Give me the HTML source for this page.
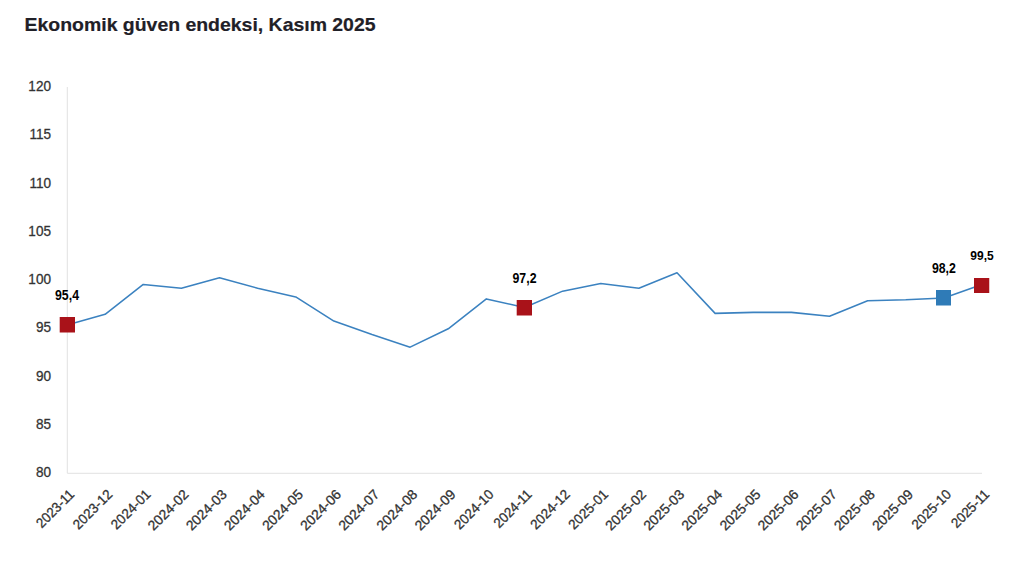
<!DOCTYPE html>
<html><head><meta charset="utf-8"><title>Ekonomik güven endeksi</title>
<style>
html,body{margin:0;padding:0;background:#fff;}
body{width:1023px;height:564px;overflow:hidden;font-family:"Liberation Sans",sans-serif;}
svg{display:block;}
text{font-family:"Liberation Sans",sans-serif;}
.title{font-weight:bold;font-size:18.9px;fill:#1f2027;stroke:#1f2027;stroke-width:0.2px;letter-spacing:0px;}
.yl{font-size:14.6px;fill:#333333;text-anchor:end;stroke:#333333;stroke-width:0.3px;}
.xl{font-size:13.9px;fill:#333333;text-anchor:end;stroke:#333333;stroke-width:0.3px;}
.dl{font-size:12.0px;font-weight:bold;fill:#000;text-anchor:middle;}
</style></head><body>
<svg width="1023" height="564" viewBox="0 0 1023 564">
<rect x="0" y="0" width="1023" height="564" fill="#ffffff"/>
<text class="title" transform="translate(24.6,31.4) scale(1.029,1)">Ekonomik güven endeksi, Kasım 2025</text>
<!-- axes -->
<path d="M67.3 87.0 V473.3 H982.0" fill="none" stroke="#e2e2e2" stroke-width="1"/>
<text class="yl" transform="translate(51.0,477.20) scale(0.93,1)">80</text>
<text class="yl" transform="translate(51.0,428.95) scale(0.93,1)">85</text>
<text class="yl" transform="translate(51.0,380.70) scale(0.93,1)">90</text>
<text class="yl" transform="translate(51.0,332.45) scale(0.93,1)">95</text>
<text class="yl" transform="translate(51.0,284.20) scale(0.93,1)">100</text>
<text class="yl" transform="translate(51.0,235.95) scale(0.93,1)">105</text>
<text class="yl" transform="translate(51.0,187.70) scale(0.93,1)">110</text>
<text class="yl" transform="translate(51.0,139.45) scale(0.93,1)">115</text>
<text class="yl" transform="translate(51.0,91.20) scale(0.93,1)">120</text>
<text class="xl" transform="translate(75.20,495.30) rotate(-45) scale(0.946,1)">2023-11</text>
<text class="xl" transform="translate(113.33,495.30) rotate(-45) scale(0.968,1)">2023-12</text>
<text class="xl" transform="translate(151.45,495.30) rotate(-45) scale(0.968,1)">2024-01</text>
<text class="xl" transform="translate(189.57,495.30) rotate(-45) scale(1.000,1)">2024-02</text>
<text class="xl" transform="translate(227.70,495.30) rotate(-45) scale(1.000,1)">2024-03</text>
<text class="xl" transform="translate(265.82,495.30) rotate(-45) scale(1.000,1)">2024-04</text>
<text class="xl" transform="translate(303.95,495.30) rotate(-45) scale(1.000,1)">2024-05</text>
<text class="xl" transform="translate(342.07,495.30) rotate(-45) scale(1.000,1)">2024-06</text>
<text class="xl" transform="translate(380.20,495.30) rotate(-45) scale(1.000,1)">2024-07</text>
<text class="xl" transform="translate(418.32,495.30) rotate(-45) scale(1.000,1)">2024-08</text>
<text class="xl" transform="translate(456.45,495.30) rotate(-45) scale(1.000,1)">2024-09</text>
<text class="xl" transform="translate(494.57,495.30) rotate(-45) scale(0.968,1)">2024-10</text>
<text class="xl" transform="translate(532.70,495.30) rotate(-45) scale(0.946,1)">2024-11</text>
<text class="xl" transform="translate(570.83,495.30) rotate(-45) scale(0.968,1)">2024-12</text>
<text class="xl" transform="translate(608.95,495.30) rotate(-45) scale(0.968,1)">2025-01</text>
<text class="xl" transform="translate(647.08,495.30) rotate(-45) scale(1.000,1)">2025-02</text>
<text class="xl" transform="translate(685.20,495.30) rotate(-45) scale(1.000,1)">2025-03</text>
<text class="xl" transform="translate(723.33,495.30) rotate(-45) scale(1.000,1)">2025-04</text>
<text class="xl" transform="translate(761.45,495.30) rotate(-45) scale(1.000,1)">2025-05</text>
<text class="xl" transform="translate(799.58,495.30) rotate(-45) scale(1.000,1)">2025-06</text>
<text class="xl" transform="translate(837.70,495.30) rotate(-45) scale(1.000,1)">2025-07</text>
<text class="xl" transform="translate(875.83,495.30) rotate(-45) scale(1.000,1)">2025-08</text>
<text class="xl" transform="translate(913.95,495.30) rotate(-45) scale(1.000,1)">2025-09</text>
<text class="xl" transform="translate(952.08,495.30) rotate(-45) scale(0.968,1)">2025-10</text>
<text class="xl" transform="translate(990.20,495.30) rotate(-45) scale(0.946,1)">2025-11</text>
<polyline points="67.00,324.94 105.12,314.32 143.25,284.41 181.38,288.27 219.50,277.66 257.62,288.27 295.75,296.96 333.88,321.08 372.00,334.59 410.12,347.14 448.25,328.80 486.38,298.89 524.50,307.57 562.62,291.16 600.75,283.44 638.88,288.27 677.00,272.83 715.12,313.36 753.25,312.39 791.38,312.39 829.50,316.26 867.62,300.81 905.75,299.85 943.88,297.92 982.00,284.51" fill="none" stroke="#3b82c0" stroke-width="1.55" stroke-linejoin="round" stroke-linecap="round"/>
<rect x="59.7" y="317" width="15.3" height="15.5" fill="#a91219"/>
<text class="dl" style="font-size:14.0px" transform="translate(67.00,299.7) scale(0.88,1)">95,4</text>
<rect x="516.7" y="300" width="15.3" height="15.5" fill="#a91219"/>
<text class="dl" style="font-size:14.0px" transform="translate(524.50,283.1) scale(0.88,1)">97,2</text>
<rect x="936" y="290" width="15" height="15.5" fill="#2f7bb7"/>
<text class="dl" style="font-size:14.0px" transform="translate(943.88,273.1) scale(0.88,1)">98,2</text>
<rect x="974" y="278" width="15.25" height="15" fill="#a91219"/>
<text class="dl" style="font-size:12.0px" transform="translate(982.00,259.7) scale(1.0,1)">99,5</text>
</svg>
</body></html>
